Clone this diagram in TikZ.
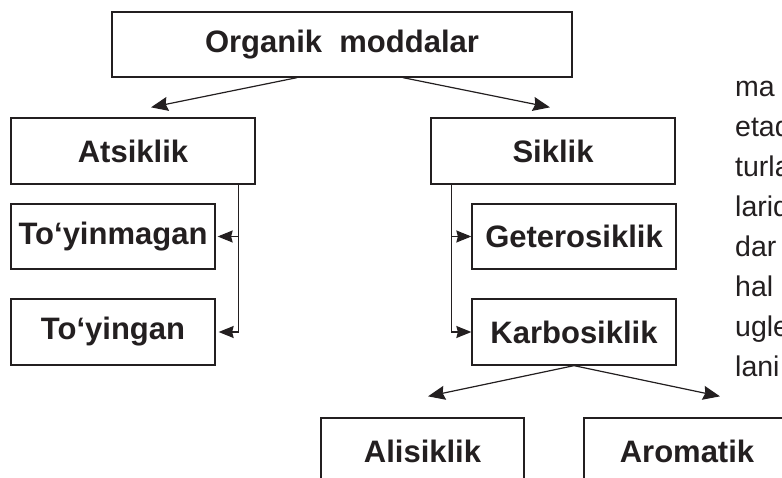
\documentclass[tikz,border=0pt]{standalone}
\usepackage{fontspec}
\setmainfont{Liberation Sans}
\usepackage{xcolor}
\usetikzlibrary{positioning,arrows.meta}
\definecolor{ink}{RGB}{35,31,32}
\tikzset{
    box/.style={draw=ink,line width=1.3pt,inner sep=0pt,text=ink,
        font=\fontsize{31}{36}\selectfont\bfseries},
    bigbox/.style={box,minimum width=244pt,minimum height=66pt},
    smallbox/.style={box,minimum width=204pt,minimum height=65pt},
    arr/.style={-{Stealth[length=17pt,width=14pt,inset=2pt]},line width=1.2pt,draw=ink},
    sarr/.style={-{Stealth[length=15pt,width=12pt,inset=1.5pt]},line width=1.2pt,draw=ink},
    word/.style={anchor=base west,inner sep=0pt,text=ink,
        font=\fontsize{28.5}{34}\selectfont},
}

\begin{document}
\begin{tikzpicture}[x=1pt,y=-1pt]

    \useasboundingbox (0,0) rectangle (782,478);
    \clip (0,0) rectangle (782,478);
    \fill[white] (0,0) rectangle (782,478);

    % Top box
    \node[box,minimum width=460pt,minimum height=65pt] (organik) at (342,44.5) {Organik\ \ moddalar};

    % Second row
    \node[bigbox] (atsiklik) at (133,151) {Atsiklik};
    \node[bigbox] (siklik) at (553,151) {Siklik};

    % Subtypes
    \node[smallbox] (toyinmagan) at (113,236.5) {To‘yinmagan};
    \node[smallbox,minimum height=66pt] (toyingan) at (113,332) {To‘yingan};
    \node[smallbox] (getero) at (574,236.5) {Geterosiklik};
    \node[smallbox,minimum height=66pt] (karbo) at (574,332) {Karbosiklik};

    % Bottom row (runs off the page)
    \node[box,minimum width=203pt,minimum height=66pt] (alisiklik) at (422.5,451) {Alisiklik};
    \node[box,minimum width=206pt,minimum height=66pt] (aromatik) at (687,451) {Aromatik};

    % Arrows from the top box
    \draw[arr] ([xshift=-45pt]organik.south) -- ([xshift=18pt,yshift=10pt]atsiklik.north);
    \draw[arr] ([xshift=61pt]organik.south) -- ([xshift=-3pt,yshift=10pt]siklik.north);

    % Brackets on the side
    \coordinate (ra) at ([xshift=-17pt]atsiklik.south east);
    \draw[sarr] (ra) |- ([xshift=3pt]toyingan.east);
    \draw[sarr] (ra |- toyinmagan.east) -- ([xshift=2pt]toyinmagan.east);

    \coordinate (rs) at ([xshift=21pt]siklik.south west);
    \draw[sarr] (rs) |- (karbo.west);
    \draw[sarr] (rs |- getero.west) -- (getero.west);

    % Karbosiklik splits in two
    \draw[arr] (karbo.south) -- ([xshift=5.5pt,yshift=21pt]alisiklik.north);
    \draw[arr] (karbo.south) -- ([xshift=33pt,yshift=21pt]aromatik.north);

    % Running text at the right margin
    \foreach \w [count=\i from 0] in {ma,etad,turla,larid,dar,hal,ugle,lani}
        \node[word] (w\i) at (735,{97+40*\i}) {\w};

\end{tikzpicture}
\end{document}
